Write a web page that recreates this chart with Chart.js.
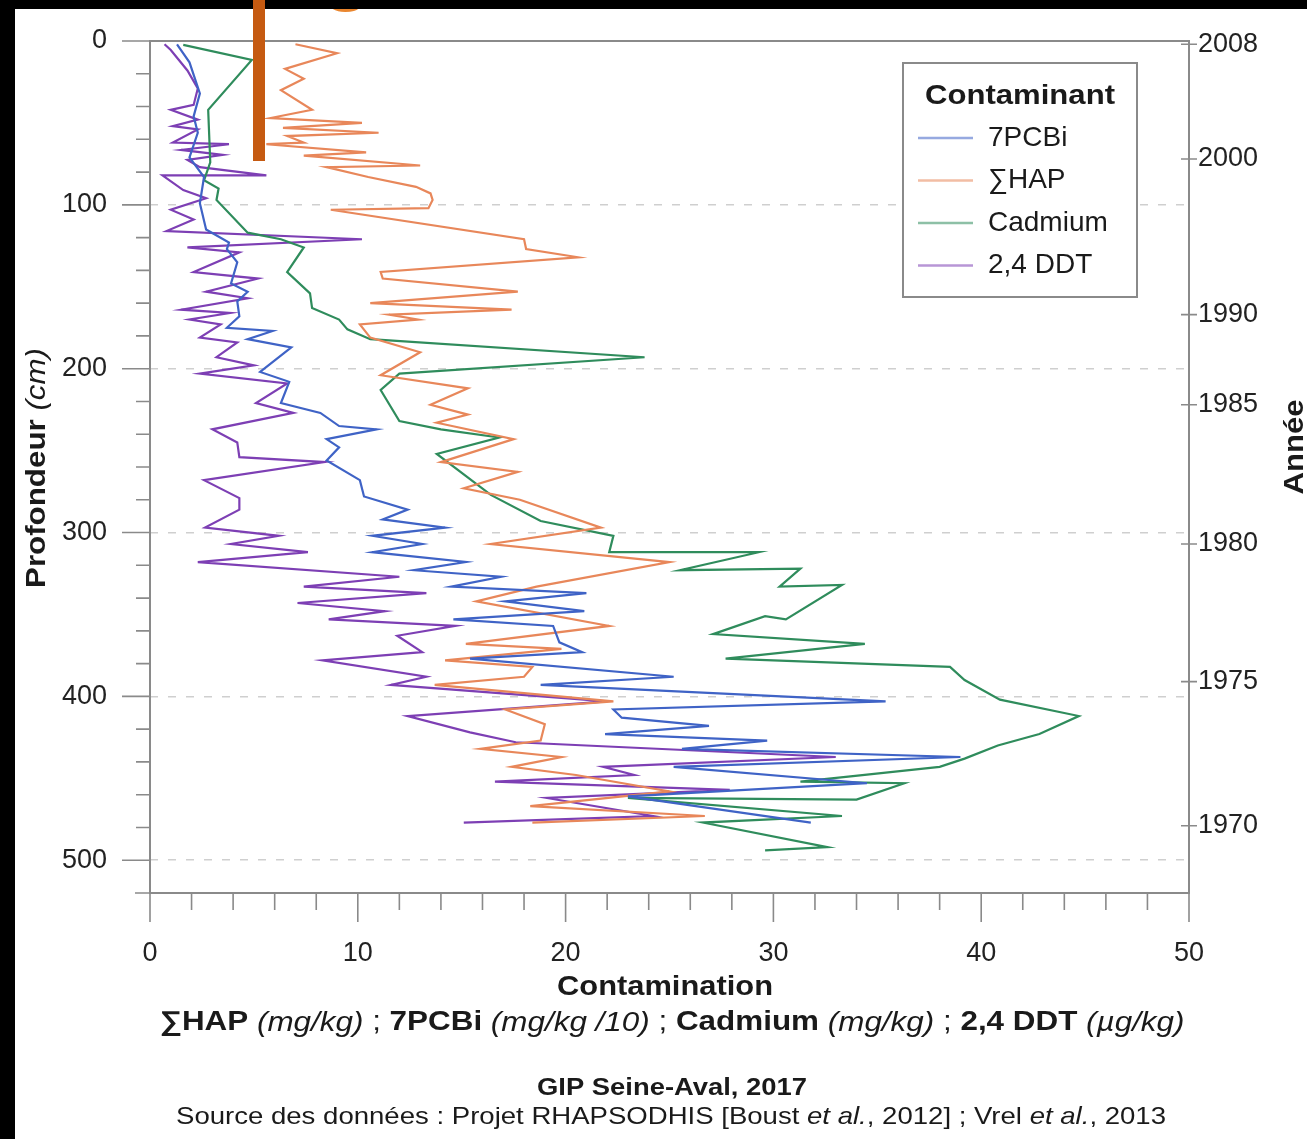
<!DOCTYPE html>
<html>
<head>
<meta charset="utf-8">
<script src="https://cdn.jsdelivr.net/npm/chart.js@4.4.0/dist/chart.umd.min.js"></script>
<style>
  html, body { margin: 0; padding: 0; background: #fff; overflow: hidden; }
  #wrap { position: relative; width: 1307px; height: 1139px; overflow: hidden; }
  #chart { position: absolute; left: 0; top: 0; }
  .strip { position: absolute; background: #000; }
  #bar { position: absolute; left: 253px; top: 0; width: 12px; height: 161px; background: #c55a11; }
  #glyph { position: absolute; left: 322px; top: -72px; font: bold 80px "Liberation Sans", Arial, sans-serif;
           line-height: 80px; color: #e9862f; }
</style>
</head>
<body>
<div id="wrap">
  <canvas id="chart" width="1307" height="1139"></canvas>
  <div id="glyph">g</div>
  <div class="strip" style="left:0;top:0;width:1307px;height:9px"></div>
  <div class="strip" style="left:0;top:0;width:15px;height:1139px"></div>
  <div id="bar"></div>
</div>
<script>
// depth (cm) and contamination
const pcbDepth = [2, 13, 32, 46, 56, 71, 83, 99, 115, 123, 127, 135, 148, 153, 159, 168, 175, 177, 182, 187,
  202, 208, 221, 227, 235, 237, 243, 248, 256, 268, 278, 286, 292, 297, 302, 307, 312, 318, 323, 327,
  333, 337, 342, 348, 353, 357, 367, 373, 377, 388, 393, 403, 408, 413, 418, 423, 427, 432, 437, 443,
  453, 461, 477];
const pcbValue = [1.3, 1.9, 2.4, 2.1, 2.3, 1.9, 2.6, 2.4, 2.7, 3.8, 3.7, 4.2, 3.9, 4.7, 4.2, 4.3, 3.7, 5.9, 4.7, 6.8,
  5.3, 6.7, 6.3, 8.2, 9.1, 10.9, 8.5, 9.1, 8.5, 10.1, 10.3, 12.4, 11.2, 14.2, 10.7, 13.1, 10.7, 15.2, 12.7, 16.9,
  14.5, 21.0, 17.1, 20.9, 14.6, 19.4, 19.7, 20.8, 15.4, 25.2, 18.8, 35.4, 22.3, 22.7, 26.9, 21.9, 29.7, 25.6, 39.0, 25.2,
  34.5, 23.0, 31.8];

const hapDepth = [2, 7.5, 17, 23, 30, 42, 47, 50, 53, 56, 58, 62, 63, 68, 70, 76, 77, 83, 89, 93,
  97, 102, 103, 121, 127, 132, 141, 145, 153, 160, 164, 167, 170, 173, 181, 190, 204, 212, 222, 228,
  233, 243, 257, 263, 273, 280, 297, 307, 318, 333, 342, 357, 368, 371, 378, 382, 388, 393, 403, 408,
  417, 427, 432, 437, 443, 448, 458, 467, 473, 477];
const hapValue = [7.0, 9.0, 6.5, 7.4, 6.3, 7.8, 5.8, 10.2, 6.4, 11.0, 6.6, 7.4, 5.6, 10.4, 7.4, 13.0, 8.5, 10.5, 12.8, 13.5,
  13.6, 13.4, 8.7, 18.0, 18.1, 20.6, 11.1, 11.2, 17.7, 10.6, 17.4, 11.5, 12.9, 10.1, 10.6, 13.0, 11.1, 15.3, 13.5, 15.3,
  13.8, 17.5, 14.0, 17.7, 15.1, 17.8, 21.7, 16.4, 25.0, 18.6, 15.7, 22.1, 15.2, 19.8, 14.2, 18.4, 18.0, 13.7, 22.3, 17.1,
  19.0, 18.8, 15.9, 19.8, 17.4, 20.5, 25.0, 18.3, 26.7, 18.4];

const cadDepth = [2.4, 11.6, 42, 74, 85, 90, 97, 117, 121, 126, 141, 154, 163, 170, 176, 182, 193, 203, 213, 232,
  237, 242, 252, 277, 293, 302, 312, 312, 323, 322, 333, 332, 353, 351, 362, 368, 377, 382, 390, 402,
  412, 423, 430, 438, 443, 449, 452, 453, 463, 462, 473, 477, 492, 494];
const cadValue = [1.6, 4.9, 2.8, 2.9, 2.6, 3.3, 3.2, 4.7, 6.3, 7.4, 6.6, 7.7, 7.8, 9.1, 9.5, 10.6, 23.8, 12.0, 11.1, 12.0,
  14.0, 16.8, 13.8, 16.4, 18.8, 22.3, 22.1, 29.3, 25.5, 31.3, 30.3, 33.3, 30.6, 29.6, 27.1, 34.4, 27.7, 38.5, 39.2, 40.9,
  44.7, 42.8, 40.8, 39.2, 38.0, 33.6, 31.3, 36.3, 34.0, 23.0, 33.3, 26.6, 32.6, 29.6];

const ddtDepth = [2, 5.5, 18, 29, 39, 42, 48, 52, 54, 62, 63, 66.5, 69.5, 72.6, 77, 82, 82, 91, 96, 103,
  109, 116, 121, 126, 129, 141, 145, 153, 157, 164, 166, 170, 173, 181, 184, 193, 198, 203, 209, 221,
  227, 237, 245, 254, 257, 268, 279, 286, 297, 302, 307, 312, 318, 327, 333, 337, 343, 348, 353, 357,
  363, 373, 378, 388, 393, 403, 412, 422, 428, 437, 443, 448, 452, 457, 462, 473, 477];
const ddtValue = [0.7, 1.0, 1.8, 2.3, 2.1, 1.0, 2.3, 1.1, 2.3, 1.1, 3.8, 1.5, 3.5, 1.8, 2.4, 5.6, 0.6, 1.6, 2.7, 1.0,
  2.1, 0.8, 10.2, 1.8, 4.3, 2.1, 5.2, 2.7, 4.7, 1.5, 3.85, 1.9, 3.4, 2.4, 4.2, 3.2, 5.0, 2.4, 6.6, 5.1,
  6.9, 3.0, 4.2, 4.3, 8.4, 2.6, 4.3, 4.3, 2.65, 6.2, 3.9, 7.6, 2.3, 12.0, 7.4, 13.3, 7.1, 11.3, 8.6, 14.7,
  11.9, 13.1, 8.3, 13.3, 11.6, 22.0, 12.4, 15.4, 17.6, 33.0, 21.8, 23.3, 16.6, 27.9, 19.1, 24.2, 15.1];

// right axis: year at depth
const yearLabels = ['2008', '2000', '1990', '1985', '1980', '1975', '1970'];
const yearDepths = [2, 72, 167, 222, 307, 391, 479];

const seriesNames = ['7PCBi', '∑HAP', 'Cadmium', '2,4 DDT'];
const seriesColors = ['#3f63c6', '#e8875a', '#2f8c5c', '#7d3fb4'];

const FONT = '"Liberation Sans", Arial, sans-serif';

// title texts, split into styled runs
const leftTitle = [{ t: 'Profondeur ', b: true }, { t: '(cm)', i: true }];
const rightTitle = [{ t: 'Année', b: true }];
const xTitle = [{ t: 'Contamination', b: true }];
const xUnits = [
  { t: '∑HAP', b: true }, { t: ' (mg/kg)', i: true }, { t: ' ; ' },
  { t: '7PCBi', b: true }, { t: ' (mg/kg /10)', i: true }, { t: ' ; ' },
  { t: 'Cadmium', b: true }, { t: ' (mg/kg)', i: true }, { t: ' ; ' },
  { t: '2,4 DDT', b: true }, { t: ' (µg/kg)', i: true }
];
const credit = [{ t: 'GIP Seine-Aval, 2017', b: true }];
const source = [
  { t: 'Source des données : Projet RHAPSODHIS [Boust ' }, { t: 'et al.', i: true },
  { t: ', 2012] ; Vrel ' }, { t: 'et al.', i: true }, { t: ', 2013' }
];

function drawRuns(ctx, runs, size, cx, cy, width, rot) {
  const fontOf = r => `${r.i ? 'italic ' : ''}${r.b ? 'bold ' : ''}${size}px ${FONT}`;
  let total = 0;
  const widths = runs.map(r => { ctx.font = fontOf(r); const w = ctx.measureText(r.t).width; total += w; return w; });
  const sx = width ? width / total : 1;
  ctx.save();
  ctx.translate(cx, cy);
  if (rot) ctx.rotate(rot);
  ctx.scale(sx, 1);
  ctx.fillStyle = '#1a1a1a';
  ctx.textAlign = 'left';
  ctx.textBaseline = 'middle';
  let x = -total / 2;
  runs.forEach((r, i) => { ctx.font = fontOf(r); ctx.fillText(r.t, x, 0); x += widths[i]; });
  ctx.restore();
}

const axisFrame = {
  id: 'axisFrame',
  afterDraw(chart) {
    const { ctx, chartArea: a, scales: { x, y, y2 } } = chart;
    ctx.save();
    ctx.strokeStyle = '#8a8a8a';
    ctx.lineWidth = 2;
    ctx.strokeRect(a.left, a.top, a.right - a.left, a.bottom - a.top);
    ctx.lineWidth = 1.6;
    ctx.beginPath();
    y.ticks.forEach(t => {
      const p = y.getPixelForValue(t.value);
      const len = t.value % 100 === 0 ? 28 : 14;
      ctx.moveTo(a.left - len, p); ctx.lineTo(a.left, p);
    });
    x.ticks.forEach(t => {
      const p = x.getPixelForValue(t.value);
      const len = t.value % 10 === 0 ? 29 : 17;
      ctx.moveTo(p, a.bottom); ctx.lineTo(p, a.bottom + len);
    });
    y2.ticks.forEach(t => {
      const p = y2.getPixelForValue(t.value);
      ctx.moveTo(a.right - 8, p); ctx.lineTo(a.right + 8, p);
    });
    ctx.moveTo(a.left - 15, a.bottom); ctx.lineTo(a.left, a.bottom);
    ctx.stroke();
    ctx.restore();

    drawRuns(ctx, leftTitle, 28, 37, 468, 240, -Math.PI / 2);
    drawRuns(ctx, rightTitle, 28, 1295, 447, 95, -Math.PI / 2);
    drawRuns(ctx, xTitle, 28, 665, 987, 216);
    drawRuns(ctx, xUnits, 27, 672, 1023, 1025);
    drawRuns(ctx, credit, 24, 672, 1088, 270);
    drawRuns(ctx, source, 24, 671, 1117, 990);
  }
};

const boxLegend = {
  id: 'boxLegend',
  afterDraw(chart) {
    const { ctx, chartArea: a } = chart;
    const L = a.right - 286, T = a.top + 22, W = 234, H = 234;
    ctx.save();
    ctx.fillStyle = '#fff';
    ctx.fillRect(L, T, W, H);
    ctx.strokeStyle = '#8a8a8a';
    ctx.lineWidth = 2;
    ctx.strokeRect(L, T, W, H);
    ctx.restore();
    drawRuns(ctx, [{ t: 'Contaminant', b: true }], 28, L + 117, T + 33, 190);
    chart.data.datasets.forEach((ds, i) => {
      const cy = T + 75 + i * 42.5;
      ctx.save();
      ctx.globalAlpha = 0.55;
      ctx.strokeStyle = ds.borderColor;
      ctx.lineWidth = 2.5;
      ctx.beginPath();
      ctx.moveTo(L + 15, cy); ctx.lineTo(L + 70, cy);
      ctx.stroke();
      ctx.restore();
      ctx.save();
      ctx.fillStyle = '#1a1a1a';
      ctx.font = `28px ${FONT}`;
      ctx.textBaseline = 'middle';
      ctx.fillText(ds.label, L + 85, cy);
      ctx.restore();
    });
  }
};

const pairs = (depth, value) => depth.map((d, i) => ({ x: value[i], y: d }));
const series = [[pcbDepth, pcbValue], [hapDepth, hapValue], [cadDepth, cadValue], [ddtDepth, ddtValue]];

const tickFont = { family: FONT, size: 27 };

new Chart(document.getElementById('chart'), {
  type: 'scatter',
  data: {
    datasets: series.map((s, i) => ({
      label: seriesNames[i],
      data: pairs(s[0], s[1]),
      showLine: true,
      borderColor: seriesColors[i],
      backgroundColor: seriesColors[i],
      borderWidth: 2.2,
      pointRadius: 0,
      tension: 0
    }))
  },
  options: {
    responsive: false,
    animation: false,
    devicePixelRatio: 1,
    layout: { padding: { top: 41, left: 0, right: 0, bottom: 0 } },
    plugins: { legend: { display: false }, tooltip: { enabled: false } },
    scales: {
      x: {
        type: 'linear', position: 'bottom', min: 0, max: 50,
        afterFit: s => { s.height = 246; s.paddingLeft = 0; s.paddingRight = 0; },
        grid: { display: false, drawTicks: false },
        border: { display: false },
        ticks: { stepSize: 2, padding: 44, color: '#222', font: tickFont, maxRotation: 0, autoSkip: false,
                 callback: v => (v % 10 === 0 ? v : '') }
      },
      y: {
        type: 'linear', position: 'left', min: 0, max: 520, reverse: true,
        afterFit: s => { s.width = 150; s.paddingTop = 0; s.paddingBottom = 0; },
        grid: {
          drawTicks: false, lineWidth: 1.5,
          color: c => (c.tick.value % 100 === 0 && c.tick.value > 0 && c.tick.value < 520 ? '#cfcfcf' : 'rgba(0,0,0,0)')
        },
        border: { display: false, dash: [8, 10] },
        ticks: { stepSize: 20, padding: 43, color: '#222', font: tickFont, autoSkip: false,
                 callback: v => (v % 100 === 0 ? v : '') }
      },
      y2: {
        type: 'linear', position: 'right', min: 0, max: 520, reverse: true,
        afterFit: s => { s.width = 118; s.paddingTop = 0; s.paddingBottom = 0; },
        afterBuildTicks: s => { s.ticks = yearDepths.map(v => ({ value: v })); },
        grid: { display: false, drawTicks: false },
        border: { display: false },
        ticks: { padding: 9, color: '#222', font: tickFont, autoSkip: false,
                 callback: (v, i) => yearLabels[i] }
      }
    }
  },
  plugins: [axisFrame, boxLegend]
});
</script>
</body>
</html>
